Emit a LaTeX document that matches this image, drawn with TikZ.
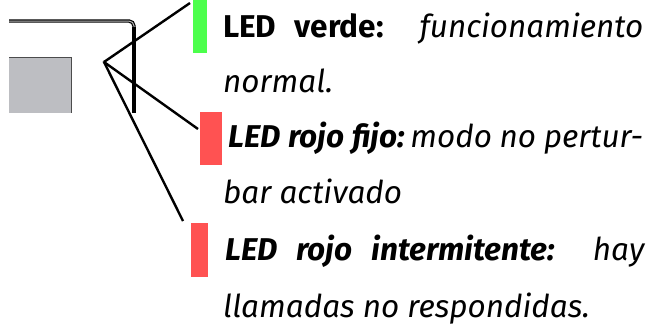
\documentclass[tikz,border=0pt]{standalone}
\usepackage{fontspec}
\setmainfont{Fira Sans}
\definecolor{ledgreen}{HTML}{4CFF4C}
\definecolor{ledred}{HTML}{FF5252}
\definecolor{panelgray}{HTML}{BDBEC2}
\tikzset{
  conn/.style={line width=2.4pt, black},
  ledbar/.style={rectangle, draw=none, inner sep=0pt, anchor=north west},
  txt/.style={anchor=base west, inner sep=0pt, font=\fontsize{31.5}{36}\selectfont},
  frameline/.style={double=gray!55, double distance=1pt, line width=1.2pt, draw=black},
  thickbar/.style={line width=3.4pt, black}
}
\begin{document}
\begin{tikzpicture}[x=1pt,y=-1pt]
\useasboundingbox (0,0) rectangle (650,325);
% device sketch
\fill[panelgray] (9,57) rectangle (71,113);
\draw[black!70, line width=0.8pt] (9,57) -- (71,57) -- (71,113);
\draw[frameline, rounded corners=5pt] (9,21) -- (134,21) -- (134,32);
\draw[thickbar] (134,27) -- (134,113);
\coordinate (p) at (104,62);
\fill[black!60] (p) circle (1.6);
% LEDs
\node[ledbar, fill=ledgreen, minimum width=14pt, minimum height=53pt] (g) at (193,0) {};
\node[ledbar, fill=ledred, minimum width=22pt, minimum height=53pt] (r1) at (200,112) {};
\node[ledbar, fill=ledred, minimum width=17pt, minimum height=54pt] (r2) at (191,223) {};
\coordinate (ge) at (190,3);
\coordinate (r1e) at (198,129);
\coordinate (r2e) at (183,221);
\draw[conn] (p) -- (ge);
\draw[conn] (p) -- (r1e);
\draw[conn] (p) -- (r2e);
% texts
\node[txt] (t1) at (223,37) {\makebox[420pt][s]{\textbf{LED verde:} \textit{funcionamiento}}};
\node[txt] (t2) at (223,92) {\textit{normal.}};
\node[txt] (t3) at (228,147) {\makebox[415pt][s]{\itshape\spaceskip=0.15em plus 1em minus 0.1em\textbf{LED rojo fijo:}\,modo no pertur-}};
\node[txt] (t4) at (223,203) {\textit{bar activado}};
\node[txt] (t5) at (225,260) {\makebox[420pt][s]{\textbf{\textit{LED rojo intermitente:}} \textit{hay}}};
\node[txt] (t6) at (223,317) {\textit{llamadas no respondidas.}};
\end{tikzpicture}
\end{document}
